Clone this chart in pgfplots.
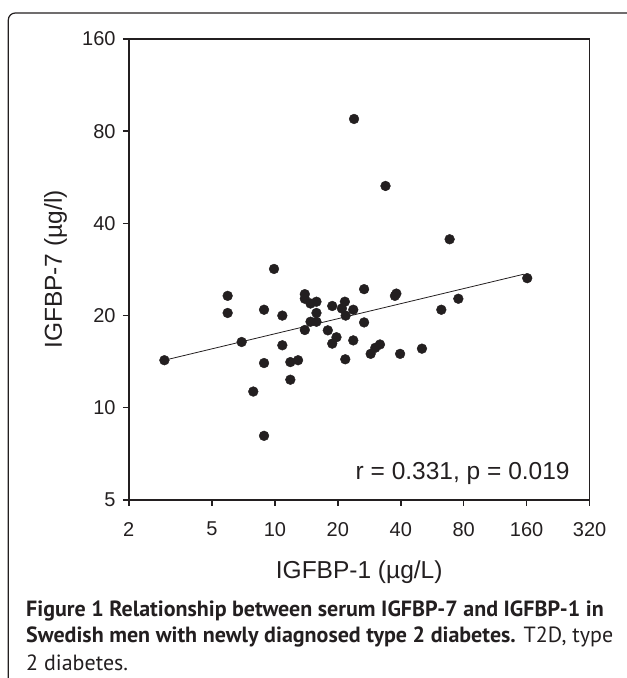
\documentclass[border=0pt]{standalone}
\usepackage{pgfplots}
\pgfplotsset{compat=1.18}
\usepackage{fontspec}
\setmainfont{Liberation Sans}
\newfontfamily\capfont{PT Sans}
\definecolor{ink}{HTML}{231F20}
\begin{document}
\begin{tikzpicture}[x=1pt,y=1pt]
\useasboundingbox (0,0) rectangle (627,678);
\draw[ink, line width=1.2pt, rounded corners=7pt] (8.3,-5) -- (8.3,665) -- (640,665);
\begin{axis}[
  at={(128.8pt,178pt)}, anchor=south west,
  scale only axis, width=460.8pt, height=461pt,
  xmode=log, ymode=log,
  xmin=2, xmax=320, ymin=5, ymax=160,
  xtick={2,5,10,20,40,80,160,320},
  xticklabels={2,5,10,20,40,80,160,320},
  ytick={5,10,20,40,80,160},
  yticklabels={5,10,20,40,80,160},
  xminorticks=false, yminorticks=false,
  tick pos=left, tick align=outside, major tick length=6pt,
  axis line style={ink, line width=1.6pt},
  every tick/.style={ink, line width=1.4pt},
  ticklabel style={font=\fontsize{20}{24}\selectfont, text=ink, inner sep=0pt},
  xticklabel style={yshift=-16pt},
  yticklabel style={xshift=-7pt},
  xlabel={IGFBP-1 (µg/L)}, ylabel={IGFBP-7 (µg/l)},
  label style={font=\fontsize{24.5}{28}\selectfont, text=ink},
  xlabel style={at={(axis description cs:0.5,-0.171)}, anchor=base},
  ylabel style={at={(axis description cs:-0.145,0.5)}, anchor=base},
  clip=false,
]
\addplot[ink, line width=0.8pt] coordinates {(2.96,14.3) (155,27.3)};
\addplot[only marks, mark=*, mark size=4.9pt, ink, mark options={fill=ink, draw=ink}] coordinates {
(2.96,14.3) (6.93,16.4) (5.94,23.2) (5.94,20.4) (9.9,28.4) (8.87,20.9)
(10.85,20.0) (10.85,16.0) (8.87,14.0) (11.85,14.1) (12.9,14.3) (11.85,12.35)
(7.88,11.3) (8.87,8.1) (13.9,23.5) (13.9,22.7) (14.8,21.9) (15.8,22.2)
(15.8,20.4) (14.8,19.1) (15.8,19.1) (13.9,17.95) (17.9,17.9) (18.8,21.5)
(21.6,22.2) (20.9,21.1) (21.8,20.0) (26.7,24.4) (23.7,20.9) (26.7,19.0)
(19.7,17.0) (18.8,16.2) (23.7,16.6) (21.7,14.4) (28.7,15.0) (30.2,15.7)
(31.8,16.1) (39.7,15.0) (50.5,15.6) (38.1,23.6) (37.5,23.2) (75.4,22.7)
(62.5,20.9) (68.5,35.5) (33.8,53.0) (23.9,87.7) (161,26.5)
};
\node[anchor=base east, inner sep=0pt, font=\fontsize{24.5}{28}\selectfont, text=ink] at (axis description cs:0.957,0.0434) {r = 0.331, p = 0.019};
\end{axis}
\node[anchor=base west, inner sep=0pt, text=ink, font=\capfont\fontsize{22}{26}\selectfont] at (26,61) {\textbf{Figure 1 Relationship between serum IGFBP-7 and IGFBP-1 in}};
\node[anchor=base west, inner sep=0pt, text=ink, font=\capfont\fontsize{22}{26}\selectfont] at (26,35) {\textbf{Swedish men with newly diagnosed type 2 diabetes.} T2D, type};
\node[anchor=base west, inner sep=0pt, text=ink, font=\capfont\fontsize{22}{26}\selectfont] at (26,8) {2 diabetes.};
\end{tikzpicture}
\end{document}
